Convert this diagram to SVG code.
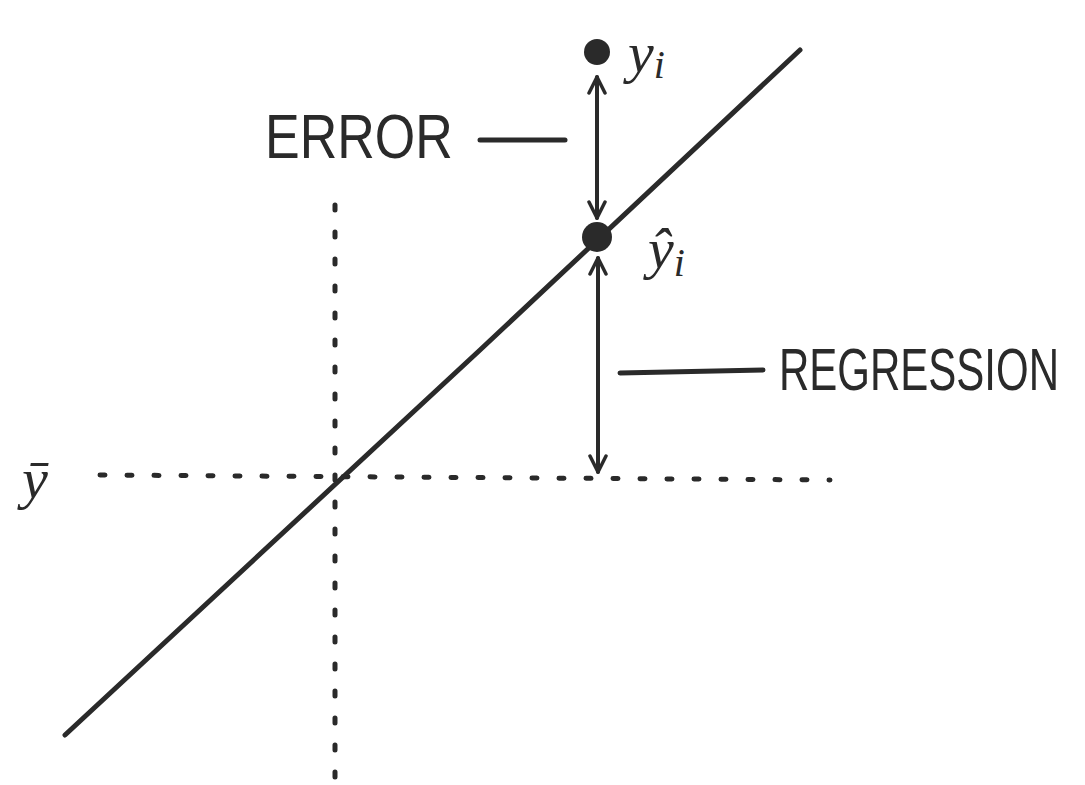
<svg xmlns="http://www.w3.org/2000/svg" width="1085" height="785" viewBox="0 0 1085 785">
<style>
.ink{stroke:#2a2a2a;fill:none;stroke-linecap:round;stroke-linejoin:round}
.dot{stroke:#2a2a2a;stroke-width:5;stroke-dasharray:5 22;stroke-linecap:round;fill:none}
.lbl{font-family:"Liberation Sans",Arial,sans-serif;fill:#2a2a2a}
.math{font-family:"Liberation Serif","DejaVu Serif",serif;font-style:italic;fill:#2a2a2a}
</style>
<defs>
<marker id="ah" viewBox="0 0 20 20" refX="18" refY="10" markerWidth="20" markerHeight="20" markerUnits="userSpaceOnUse" orient="auto-start-reverse">
<path d="M2,2 L18,10 L2,18" fill="none" stroke="#2a2a2a" stroke-width="3.5" stroke-linecap="round" stroke-linejoin="round"/>
</marker>
</defs>
<rect width="1085" height="785" fill="#ffffff"/>
<g id="axes">
<line class="dot" x1="335" y1="205" x2="335" y2="780"/>
<line class="dot" x1="100" y1="475" x2="830" y2="480"/>
</g>
<g id="regression-line">
<path class="ink" stroke-width="5" d="M65,735 Q330,490 480,350 T800,50"/>
</g>
<g id="yi">
<circle cx="597" cy="52" r="13" fill="#2a2a2a"/>
<text class="math" x="628" y="72" font-size="58">y<tspan font-size="40" dy="6">i</tspan></text>
</g>
<g id="yhat">
<circle cx="597" cy="237" r="15" fill="#2a2a2a"/>
<text class="math" x="648" y="268" font-size="58">ŷ<tspan font-size="40" dy="8">i</tspan></text>
</g>
<g id="ybar">
<text class="math" x="22" y="498" font-size="58">ȳ</text>
</g>
<g id="connectors">
<line class="ink" stroke-width="4" x1="597" y1="77" x2="597" y2="218" marker-start="url(#ah)" marker-end="url(#ah)"/>
<line class="ink" stroke-width="4" x1="598" y1="258" x2="598" y2="472" marker-start="url(#ah)" marker-end="url(#ah)"/>
<line class="ink" stroke-width="5" x1="480" y1="140" x2="565" y2="140"/>
<line class="ink" stroke-width="5" x1="620" y1="373" x2="763" y2="370"/>
</g>
<g id="error-label">
<text class="lbl" font-size="52" transform="translate(265,158) scale(1,1.2)">ERROR</text>
</g>
<g id="regression-label">
<text class="lbl" font-size="42" transform="translate(779,390) scale(1,1.4)">REGRESSION</text>
</g>
</svg>
